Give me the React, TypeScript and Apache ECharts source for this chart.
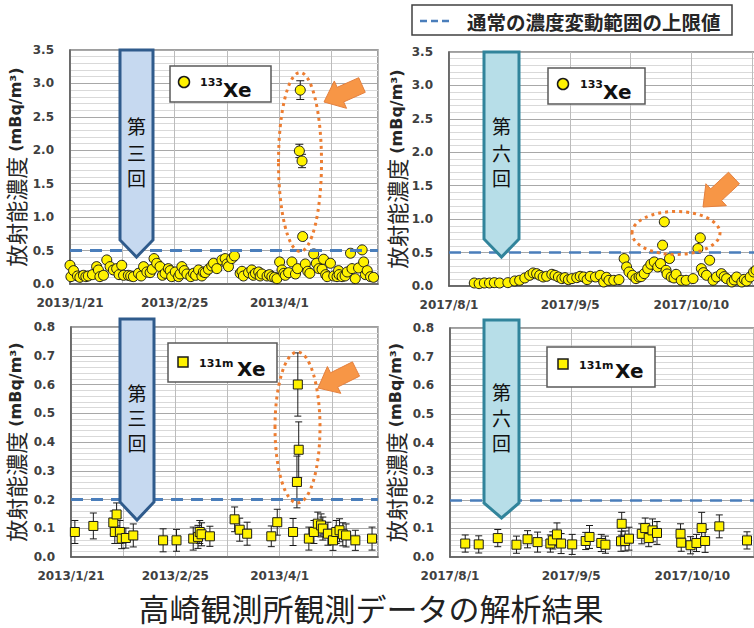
import React, { useEffect, useRef } from 'react';
import * as echarts from 'echarts';

// Day offsets are counted from the start date of each observation window.
const start2013 = Date.UTC(2013, 0, 21);
const start2017 = Date.UTC(2017, 7, 1);

// Xe-133, 2013 window: [day, mBq/m3, uncertainty]
const xe133Y2013: number[][] = [
  [0, 0.28, 0], [0.3, 0.11, 0], [1.2, 0.2, 0], [2.5, 0.12, 0], [3.3, 0.1, 0], [4.5, 0.13, 0], [5.3, 0.11, 0],
  [6.1, 0.12, 0], [7.5, 0.14, 0], [8.9, 0.26, 0], [9.5, 0.21, 0], [10.0, 0.11, 0], [11.2, 0.13, 0],
  [12.3, 0.36, 0], [13.4, 0.26, 0], [14.5, 0.21, 0], [15.6, 0.23, 0], [16.4, 0.14, 0], [17.3, 0.28, 0],
  [17.9, 0.13, 0], [19.5, 0.13, 0], [20.3, 0.12, 0], [21.2, 0.11, 0], [22.9, 0.16, 0], [23.8, 0.12, 0],
  [24.6, 0.26, 0], [25.7, 0.18, 0], [26.8, 0.17, 0], [27.5, 0.22, 0], [28.1, 0.38, 0], [29.0, 0.31, 0],
  [30.1, 0.26, 0], [30.9, 0.13, 0], [31.8, 0.16, 0], [32.9, 0.23, 0], [33.5, 0.2, 0], [34.0, 0.11, 0],
  [35.2, 0.18, 0], [36.3, 0.11, 0], [36.8, 0.15, 0], [37.4, 0.26, 0], [38.2, 0.2, 0], [39.1, 0.15, 0],
  [40.4, 0.11, 0], [41.3, 0.16, 0], [42.0, 0.13, 0], [43.0, 0.21, 0], [44.1, 0.12, 0], [44.6, 0.18, 0],
  [45.2, 0.17, 0], [46.3, 0.22, 0], [47.4, 0.27, 0], [48.0, 0.31, 0], [49.1, 0.23, 0], [50.8, 0.36, 0],
  [51.9, 0.38, 0], [52.5, 0.3, 0], [53.0, 0.26, 0], [54.1, 0.38, 0], [55.0, 0.42, 0], [56.9, 0.16, 0],
  [57.5, 0.19, 0], [58.0, 0.12, 0], [59.7, 0.17, 0], [60.8, 0.21, 0], [61.3, 0.13, 0], [62.0, 0.16, 0],
  [63.1, 0.18, 0], [63.6, 0.12, 0], [64.2, 0.15, 0], [65.9, 0.12, 0], [66.7, 0.14, 0], [67.5, 0.11, 0],
  [68.4, 0.1, 0], [69.2, 0.08, 0], [70.1, 0.33, 0], [70.9, 0.21, 0], [71.5, 0.16, 0], [72.0, 0.13, 0],
  [73.1, 0.17, 0], [74.2, 0.33, 0], [75.4, 0.15, 0], [76.1, 0.23, 0], [76.7, 1.99, 0.1], [77.0, 2.9, 0.14],
  [77.6, 1.84, 0.1], [77.8, 0.71, 0], [78.7, 0.3, 0], [79.5, 0.19, 0], [80.2, 0.16, 0], [81.5, 0.45, 0],
  [82.4, 0.31, 0], [83.2, 0.23, 0], [84.3, 0.22, 0], [84.8, 0.37, 0], [85.5, 0.14, 0], [86.0, 0.11, 0],
  [87.1, 0.31, 0], [88.2, 0.12, 0], [89.3, 0.11, 0], [89.8, 0.2, 0], [90.0, 0.14, 0], [91.0, 0.11, 0],
  [92.0, 0.12, 0], [92.7, 0.18, 0], [93.8, 0.46, 0], [94.3, 0.23, 0], [95.4, 0.08, 0], [96.5, 0.24, 0],
  [97.7, 0.51, 0], [98.2, 0.33, 0], [98.8, 0.14, 0], [99.4, 0.2, 0], [100.5, 0.11, 0], [101.5, 0.1, 0],
];

// Xe-133, 2017 window: [day, mBq/m3]
const xe133Y2017: number[][] = [
  [7.3, 0.045], [8.7, 0.035], [10.2, 0.045], [11.7, 0.045], [13.1, 0.05], [14.6, 0.045], [17.0, 0.05],
  [19.0, 0.075], [20.4, 0.085], [21.9, 0.12], [23.3, 0.16], [24.3, 0.195], [25.3, 0.185], [26.2, 0.16],
  [27.2, 0.135], [28.2, 0.145], [29.7, 0.175], [30.6, 0.16], [31.6, 0.135], [32.6, 0.11], [33.5, 0.125],
  [34.5, 0.095], [35.5, 0.11], [36.9, 0.125], [37.9, 0.145], [38.9, 0.135], [39.9, 0.095], [40.8, 0.145],
  [42.3, 0.135], [43.7, 0.16], [44.7, 0.06], [45.5, 0.13], [46.2, 0.085], [47.6, 0.085], [49.1, 0.095],
  [50.6, 0.41], [51.3, 0.285], [52.0, 0.21], [53.0, 0.16], [54.0, 0.11], [54.9, 0.135], [55.5, 0.14],
  [56.4, 0.185], [57.4, 0.26], [58.3, 0.325], [59.3, 0.36], [60.3, 0.285], [61.1, 0.335], [61.7, 0.61],
  [62.2, 0.96], [62.7, 0.235], [63.0, 0.18], [63.7, 0.41], [64.2, 0.135], [65.0, 0.12], [65.6, 0.175],
  [67.1, 0.085], [68.5, 0.085], [70.5, 0.11], [71.9, 0.56], [72.6, 0.72], [72.9, 0.26], [73.5, 0.2],
  [74.4, 0.16], [75.3, 0.385], [76.3, 0.085], [77.3, 0.135], [78.7, 0.185], [79.5, 0.14], [80.2, 0.11],
  [81.7, 0.06], [82.4, 0.09], [83.1, 0.135], [84.6, 0.06], [85.3, 0.1], [86.0, 0.075], [87.0, 0.135],
  [88.0, 0.21], [88.7, 0.235],
];

// Xe-131m, 2013 window: [day, mBq/m3, uncertainty]
const xe131mY2013: number[][] = [
  [1.3, 0.087, 0.04], [7.5, 0.108, 0.045], [14.2, 0.12, 0.04], [14.7, 0.087, 0.04], [15.3, 0.148, 0.04],
  [16.4, 0.087, 0.04], [17.0, 0.064, 0.035], [18.4, 0.066, 0.035], [20.9, 0.075, 0.04], [30.9, 0.058, 0.04],
  [35.4, 0.058, 0.038], [41.0, 0.064, 0.04], [42.6, 0.07, 0.04], [43.2, 0.087, 0.04], [43.8, 0.079, 0.04],
  [46.6, 0.072, 0.035], [54.9, 0.131, 0.043], [56.6, 0.095, 0.04], [59.1, 0.081, 0.04], [67.2, 0.072, 0.036],
  [69.2, 0.121, 0.045], [74.5, 0.087, 0.047], [75.8, 0.261, 0.09], [76.1, 0.6, 0.11], [76.4, 0.373, 0.097],
  [79.8, 0.064, 0.04], [81.5, 0.087, 0.04], [82.8, 0.116, 0.04], [83.9, 0.11, 0.04], [84.5, 0.099, 0.04],
  [86.2, 0.081, 0.04], [87.9, 0.058, 0.035], [89.0, 0.087, 0.04], [90.1, 0.093, 0.04], [91.2, 0.079, 0.04],
  [92.3, 0.075, 0.04], [95.4, 0.058, 0.035], [101.0, 0.064, 0.04],
];

// Xe-131m, 2017 window: [day, mBq/m3, uncertainty]
const xe131mY2017: number[][] = [
  [4.4, 0.047, 0.03], [8.3, 0.044, 0.03], [13.8, 0.066, 0.03], [19.2, 0.043, 0.03], [22.4, 0.062, 0.03],
  [25.3, 0.052, 0.035], [29.0, 0.047, 0.03], [29.7, 0.058, 0.03], [30.9, 0.079, 0.04], [32.1, 0.047, 0.035],
  [35.3, 0.044, 0.035], [39.2, 0.056, 0.03], [40.3, 0.07, 0.04], [43.7, 0.049, 0.03], [44.9, 0.043, 0.03],
  [49.4, 0.055, 0.035], [49.6, 0.116, 0.04], [50.6, 0.056, 0.035], [51.7, 0.064, 0.04], [55.4, 0.081, 0.035],
  [56.4, 0.101, 0.035], [57.4, 0.066, 0.03], [58.5, 0.093, 0.04], [59.8, 0.084, 0.04], [66.6, 0.081, 0.035],
  [66.8, 0.05, 0.03], [69.5, 0.041, 0.03], [71.2, 0.049, 0.03], [72.7, 0.101, 0.055], [73.7, 0.056, 0.04],
  [77.8, 0.107, 0.04], [85.8, 0.058, 0.03],
];

// Upper limit of the normal fluctuation range (mBq/m3)
const upperLimitXe133 = 0.5;
const upperLimitXe131m = 0.2;

const xTickDays = 17.5;
const xLabelDays = 35;

const CJK = '"Noto Sans CJK JP", sans-serif';
const LATIN = '"DejaVu Sans", sans-serif';
const YELLOW = '#fff200';
const LIMIT_BLUE = '#4a7ebb';
const ORANGE = '#f79646';

function dateLabel(base: number, day: number): string {
  const d = new Date(base + Math.round(day) * 86400000);
  return `${d.getUTCFullYear()}/${d.getUTCMonth() + 1}/${d.getUTCDate()}`;
}

function errorBars(data: number[][], idx: number, capHalf: number) {
  return {
    type: 'custom',
    xAxisIndex: idx,
    yAxisIndex: idx,
    z: 1,
    silent: true,
    data: data.filter((r) => r[2] > 0),
    encode: { x: 0, y: 1 },
    renderItem: (_p: any, api: any) => {
      const x = api.value(0);
      const v = api.value(1);
      const e = api.value(2);
      const top = api.coord([x, v + e]);
      const bot = api.coord([x, v - e]);
      const st = { stroke: '#1a1a1a', lineWidth: 1 };
      return {
        type: 'group',
        children: [
          { type: 'line', shape: { x1: top[0], y1: top[1], x2: bot[0], y2: bot[1] }, style: st },
          { type: 'line', shape: { x1: top[0] - capHalf, y1: top[1], x2: top[0] + capHalf, y2: top[1] }, style: st },
          { type: 'line', shape: { x1: bot[0] - capHalf, y1: bot[1], x2: bot[0] + capHalf, y2: bot[1] }, style: st },
        ],
      };
    },
  };
}

function blockArrow(tip: number[], tail: number[], headLen: number, headHalf: number, shaftHalf: number) {
  const dx = tip[0] - tail[0];
  const dy = tip[1] - tail[1];
  const len = Math.hypot(dx, dy);
  const ux = dx / len;
  const uy = dy / len;
  const nx = -uy;
  const ny = ux;
  const bx = tip[0] - ux * headLen;
  const by = tip[1] - uy * headLen;
  return [
    [tail[0] + nx * shaftHalf, tail[1] + ny * shaftHalf],
    [bx + nx * shaftHalf, by + ny * shaftHalf],
    [bx + nx * headHalf, by + ny * headHalf],
    [tip[0], tip[1]],
    [bx - nx * headHalf, by - ny * headHalf],
    [bx - nx * shaftHalf, by - ny * shaftHalf],
    [tail[0] - nx * shaftHalf, tail[1] - ny * shaftHalf],
  ];
}

function roundBanner(x0: number, x1: number, top: number, bodyBottom: number, tipY: number, fill: string, stroke: string, chars: string[], charYs: number[]) {
  const cx = (x0 + x1) / 2;
  const els: any[] = [
    {
      type: 'polygon',
      z: 100,
      shape: { points: [[x0, top], [x1, top], [x1, bodyBottom], [cx, tipY], [x0, bodyBottom]] },
      style: { fill, stroke, lineWidth: 3, lineJoin: 'miter' },
    },
  ];
  chars.forEach((c, i) => {
    els.push({
      type: 'text',
      z: 101,
      x: cx,
      y: charYs[i],
      style: { text: c, fill: '#111', font: `19px ${CJK}`, lineHeight: 20, align: 'center', verticalAlign: 'middle' },
    });
  });
  return els;
}

function legendBox(x: number, y: number, w: number, h: number, marker: 'circle' | 'square', mx: number, my: number, sup: string, supX: number, supY: number, xeX: number, xeY: number) {
  const els: any[] = [
    { type: 'rect', z: 100, shape: { x, y, width: w, height: h }, style: { fill: '#fff', stroke: '#595959', lineWidth: 1.5 } },
    marker === 'circle'
      ? { type: 'circle', z: 101, shape: { cx: mx, cy: my, r: 5.5 }, style: { fill: YELLOW, stroke: '#1a1a1a', lineWidth: 1.5 } }
      : { type: 'rect', z: 101, shape: { x: mx - 5, y: my - 5, width: 10, height: 10 }, style: { fill: YELLOW, stroke: '#1a1a1a', lineWidth: 1.5 } },
    { type: 'text', z: 101, x: supX, y: supY, style: { text: sup, fill: '#111', font: `bold 11px ${LATIN}`, verticalAlign: 'middle' } },
    { type: 'text', z: 101, x: xeX, y: xeY, style: { text: 'Xe', fill: '#111', font: `bold 20px ${LATIN}`, verticalAlign: 'middle' } },
  ];
  return els;
}

function dottedEllipse(cx: number, cy: number, rx: number, ry: number) {
  return {
    type: 'ellipse',
    z: 99,
    shape: { cx, cy, rx, ry },
    style: { fill: 'none', stroke: '#ed7d31', lineWidth: 3, lineDash: [3, 4] },
  };
}

const yName = '{a|放射能濃度 }{b|(mBq/m³)}';
const yNameStyle = {
  rich: {
    a: { fontSize: 22, fontFamily: CJK, color: '#262626', lineHeight: 22 },
    b: { fontSize: 16, fontWeight: 'bold', fontFamily: LATIN, color: '#262626', lineHeight: 22 },
  },
};

function axesFor(idx: number, base: number, xMax: number, yMax: number, yStep: number, nameGap: number) {
  const xAxis = {
    gridIndex: idx,
    type: 'value',
    min: 0,
    max: xMax,
    interval: xTickDays,
    axisLine: { show: true, onZero: false, lineStyle: { color: '#595959', width: 1.5 } },
    axisTick: { show: false },
    splitLine: { show: true, lineStyle: { color: '#bcbcbc', width: 1 } },
    axisLabel: {
      showMinLabel: true,
      showMaxLabel: false,
      margin: 13,
      color: '#404040',
      fontFamily: LATIN,
      fontWeight: 'bold',
      fontSize: 12,
      formatter: (v: number) => {
        const k = v / xLabelDays;
        return Math.abs(k - Math.round(k)) < 1e-6 ? dateLabel(base, v) : '';
      },
    },
  };
  const yAxis = {
    gridIndex: idx,
    type: 'value',
    min: 0,
    max: yMax,
    interval: yStep,
    axisLine: { show: true, lineStyle: { color: '#595959', width: 1.5 } },
    axisTick: { show: false },
    splitLine: { show: true, lineStyle: { color: '#a8a8a8', width: 1 } },
    minorTick: { show: false, splitNumber: 5 },
    minorSplitLine: { show: true, lineStyle: { color: '#d9d9d9', width: 1 } },
    axisLabel: {
      margin: 16,
      color: '#404040',
      fontFamily: LATIN,
      fontWeight: 'bold',
      fontSize: 12,
      formatter: (v: number) => v.toFixed(1),
    },
    name: yName,
    nameLocation: 'middle',
    nameRotate: 90,
    nameGap,
    nameTextStyle: yNameStyle,
  };
  return { xAxis, yAxis };
}

function scatterSeries(idx: number, data: number[][], symbol: string, size: number, limit: number, lineW: number) {
  return {
    type: 'scatter',
    xAxisIndex: idx,
    yAxisIndex: idx,
    z: 3,
    symbol,
    symbolSize: size,
    data: data.map((r) => [r[0], r[1]]),
    itemStyle: { color: YELLOW, borderColor: '#1a1a1a', borderWidth: 1, opacity: 1 },
    markLine: {
      silent: true,
      symbol: 'none',
      label: { show: false },
      lineStyle: { color: LIMIT_BLUE, width: lineW, type: [12, 8] },
      data: [{ yAxis: limit }],
    },
  };
}

export default function App() {
  const ref = useRef<HTMLDivElement>(null);

  useEffect(() => {
    if (!ref.current) return;
    const chart = echarts.init(ref.current, null, { renderer: 'svg' });

    const a0 = axesFor(0, start2013, 103, 3.5, 0.5, 44);
    const a1 = axesFor(1, start2017, 104, 3.5, 0.5, 42);
    const a2 = axesFor(2, start2013, 103, 0.8, 0.1, 45);
    const a3 = axesFor(3, start2017, 104, 0.8, 0.1, 44);

    const gridStyle = {
      show: true,
      borderColor: '#7f7f7f',
      borderWidth: 1.5,
      backgroundColor: '#fff',
      containLabel: false,
      outerBoundsMode: 'none',
    };

    const graphics: any[] = [
      // shared legend for the limit line
      { type: 'rect', z: 100, shape: { x: 412, y: 5, width: 320, height: 30 }, style: { fill: '#fff', stroke: '#404040', lineWidth: 1.5 } },
      { type: 'line', z: 101, shape: { x1: 420, y1: 21, x2: 453, y2: 21 }, style: { stroke: LIMIT_BLUE, lineWidth: 2.5, lineDash: [7, 4] } },
      { type: 'text', z: 101, x: 467, y: 21, style: { text: '通常の濃度変動範囲の上限値', fill: '#262626', font: `bold 19.5px ${CJK}`, verticalAlign: 'middle' } },

      ...roundBanner(120, 153, 50, 240, 257, '#c6d9f0', '#2f5b8c', ['第', '三', '回'], [125, 152, 177]),
      ...roundBanner(484, 519, 52, 239, 257, '#b7dee8', '#31849b', ['第', '六', '回'], [125, 152, 177]),
      ...roundBanner(120, 154, 319, 502, 520, '#c6d9f0', '#2f5b8c', ['第', '三', '回'], [392, 417, 442]),
      ...roundBanner(484, 519, 320, 503, 518, '#b7dee8', '#31849b', ['第', '六', '回'], [391, 417, 442]),

      ...legendBox(170, 66, 101, 36, 'circle', 184, 82, '133', 200, 82, 223, 90),
      ...legendBox(548, 68, 97, 36, 'circle', 563, 84, '133', 580, 84, 603, 92),
      ...legendBox(168, 343, 109, 39, 'square', 183, 362, '131m', 199, 363, 237, 369),
      ...legendBox(547, 347, 108, 40, 'square', 563, 364, '131m', 579, 365, 615, 371),

      dottedEllipse(300, 162, 21.5, 89.5),
      dottedEllipse(676, 233, 44, 21.5),
      dottedEllipse(297.5, 427.5, 22.5, 75.5),

      { type: 'polygon', z: 100, shape: { points: blockArrow([324, 102], [362, 85], 18, 15, 8) }, style: { fill: ORANGE, stroke: '#e4803e', lineWidth: 1 } },
      { type: 'polygon', z: 100, shape: { points: blockArrow([318, 388], [356, 369], 18, 15, 8) }, style: { fill: ORANGE, stroke: '#e4803e', lineWidth: 1 } },
      { type: 'polygon', z: 100, shape: { points: blockArrow([703, 207], [734, 178], 18, 15, 8) }, style: { fill: ORANGE, stroke: '#e4803e', lineWidth: 1 } },

      { type: 'text', z: 100, x: 371, y: 607, style: { text: '高崎観測所観測データの解析結果', fill: '#222', font: `31px ${CJK}`, lineHeight: 31, align: 'center', verticalAlign: 'middle' } },
    ];

    chart.setOption({
      animation: false,
      backgroundColor: '#fff',
      grid: [
        { left: 70, top: 50, width: 308, height: 234, ...gridStyle },
        { left: 449, top: 52, width: 360, height: 234, ...gridStyle },
        { left: 71, top: 327, width: 307, height: 230, ...gridStyle },
        { left: 450, top: 328, width: 360, height: 229, ...gridStyle },
      ],
      xAxis: [a0.xAxis, a1.xAxis, a2.xAxis, a3.xAxis],
      yAxis: [a0.yAxis, a1.yAxis, a2.yAxis, a3.yAxis],
      series: [
        errorBars(xe133Y2013, 0, 4),
        scatterSeries(0, xe133Y2013, 'circle', 10, upperLimitXe133, 3),
        scatterSeries(1, xe133Y2017, 'circle', 10, upperLimitXe133, 2.5),
        errorBars(xe131mY2013, 2, 3.5),
        scatterSeries(2, xe131mY2013, 'rect', 9, upperLimitXe131m, 3),
        errorBars(xe131mY2017, 3, 3.5),
        scatterSeries(3, xe131mY2017, 'rect', 9, upperLimitXe131m, 2.5),
      ],
      graphic: graphics,
    });

    return () => chart.dispose();
  }, []);

  return <div ref={ref} style={{ position: 'absolute', left: 0, top: 0, width: 754, height: 628 }} />;
}
